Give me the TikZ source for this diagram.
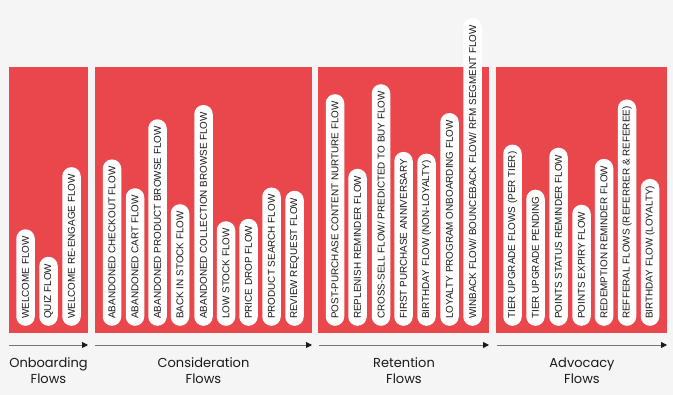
\documentclass[tikz,border=0pt]{standalone}
\usepackage{fontspec}
\setmainfont{Liberation Sans}
\newfontfamily\stagefont{Poppins}
\usetikzlibrary{arrows.meta}
\definecolor{bgc}{RGB}{245,245,245}
\definecolor{panelred}{RGB}{233,71,75}
\definecolor{inkc}{RGB}{25,25,25}
\begin{document}
\begin{tikzpicture}[x=1pt,y=-1pt,
  pill/.style={rectangle, rounded corners=9.2pt, fill=white, rotate=90, anchor=west,
    minimum height=18.5pt, inner xsep=7pt, inner ysep=0pt,
    font=\fontsize{9.9}{11}\selectfont, text=inkc},
  panel/.style={fill=panelred, draw=none},
  stage/.style={font=\stagefont\fontsize{13}{16}\selectfont, align=center, text=inkc},
  flowarrow/.style={draw=black!55, line width=0.8pt, -{Triangle[length=6pt,width=6pt,color=black!90,fill=black!90]}}]
\useasboundingbox[fill=bgc] (0,0) rectangle (673,395);

% panels
\fill[panel] (9,67) rectangle (88,333);
\fill[panel] (95,67) rectangle (312,333);
\fill[panel] (318,67) rectangle (489,333);
\fill[panel] (496,67) rectangle (667,333);

% onboarding
\node[pill] (o1) at (25.5,326) {WELCOME FLOW};
\node[pill] (o2) at (48.5,326) {QUIZ FLOW};
\node[pill] (o3) at (71.5,326) {WELCOME RE-ENGAGE FLOW};

% consideration
\node[pill] (c1) at (112,326) {ABANDONED CHECKOUT FLOW};
\node[pill] (c2) at (135,326) {ABANDONED CART FLOW};
\node[pill] (c3) at (157.5,326) {ABANDONED PRODUCT BROWSE FLOW};
\node[pill] (c4) at (180,326) {BACK IN STOCK FLOW};
\node[pill] (c5) at (203.5,326) {ABANDONED COLLECTION BROWSE FLOW};
\node[pill] (c6) at (226,326) {LOW STOCK FLOW};
\node[pill] (c7) at (248.5,326) {PRICE DROP FLOW};
\node[pill] (c8) at (271.5,326) {PRODUCT SEARCH FLOW};
\node[pill] (c9) at (294.5,326) {REVIEW REQUEST FLOW};

% retention
\node[pill] (r1) at (335,326) {POST-PURCHASE CONTENT NURTURE FLOW};
\node[pill] (r2) at (357.5,326) {REPLENISH REMINDER FLOW};
\node[pill] (r3) at (381,326) {CROSS-SELL FLOW/ PREDICTED TO BUY FLOW};
\node[pill] (r4) at (403.5,326) {FIRST PURCHASE ANNIVERSARY};
\node[pill] (r5) at (426.5,326) {BIRTHDAY FLOW (NON-LOYALTY)};
\node[pill] (r6) at (449.5,326) {LOYALTY PROGRAM ONBOARDING FLOW};
\node[pill] (r7) at (472.5,326) {WINBACK FLOW/ BOUNCEBACK FLOW/ RFM SEGMENT FLOW};

% advocacy
\node[pill] (a1) at (512.5,326) {TIER UPGRADE FLOWS (PER TIER)};
\node[pill] (a2) at (535.5,326) {TIER UPGRADE PENDING};
\node[pill] (a3) at (558.5,326) {POINTS STATUS REMINDER FLOW};
\node[pill] (a4) at (581.5,326) {POINTS EXPIRY FLOW};
\node[pill] (a5) at (604,326) {REDEMPTION REMINDER FLOW};
\node[pill] (a6) at (627,326) {REFFERAL FLOWS (REFERRER \& REFEREE)};
\node[pill] (a7) at (650,326) {BIRTHDAY FLOW (LOYALTY)};

% arrows
\coordinate (s1a) at (9,345);   \coordinate (s1b) at (88,345);
\coordinate (s2a) at (95,345);  \coordinate (s2b) at (312,345);
\coordinate (s3a) at (319,345); \coordinate (s3b) at (489,345);
\coordinate (s4a) at (497,345); \coordinate (s4b) at (667,345);
\draw[flowarrow] (s1a) -- (s1b);
\draw[flowarrow] (s2a) -- (s2b);
\draw[flowarrow] (s3a) -- (s3b);
\draw[flowarrow] (s4a) -- (s4b);

% stage labels
\node[stage] (l1) at (48.5,371) {Onboarding\\Flows};
\node[stage] (l2) at (203.5,371) {Consideration\\Flows};
\node[stage] (l3) at (404,371) {Retention\\Flows};
\node[stage] (l4) at (582,371) {Advocacy\\Flows};
\end{tikzpicture}
\end{document}
